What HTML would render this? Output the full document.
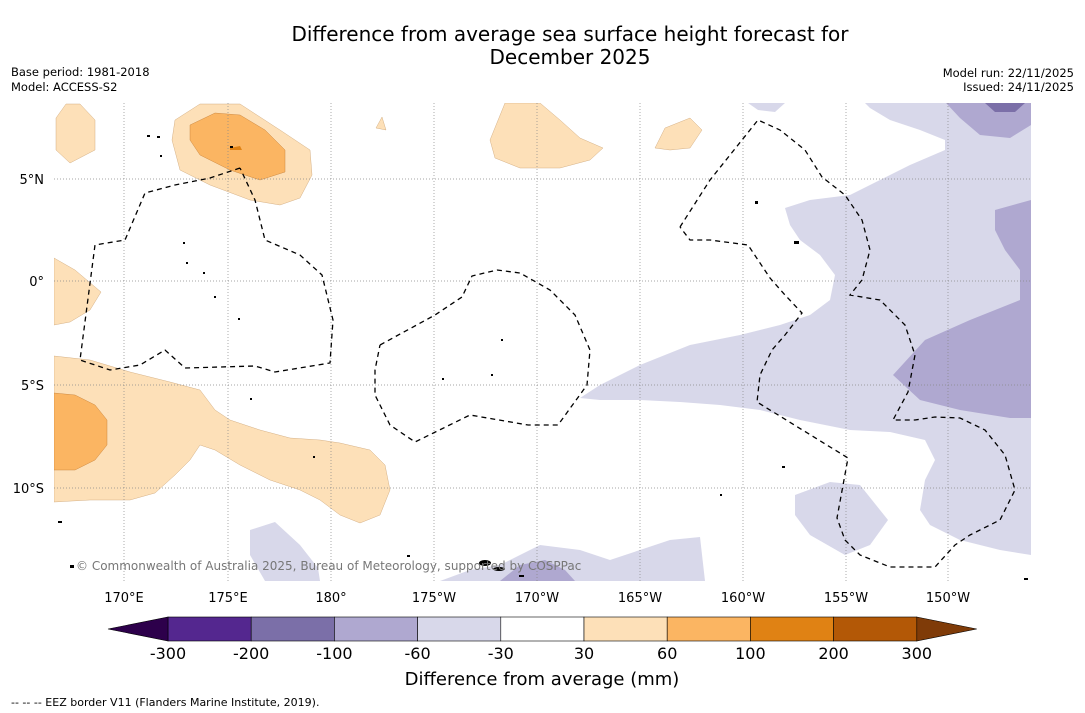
<!DOCTYPE html>
<html><head><meta charset="utf-8"><style>
body{margin:0;background:#fff;width:1085px;height:713px;overflow:hidden;font-family:"DejaVu Sans","Liberation Sans",sans-serif}
svg{position:absolute;left:0;top:0;font-family:"DejaVu Sans","Liberation Sans",sans-serif}
</style></head><body>
<svg width="1085" height="713">
<text x="570" y="41" font-size="20" text-anchor="middle">Difference from average sea surface height forecast for</text>
<text x="570" y="64" font-size="20" text-anchor="middle">December 2025</text>
<text x="11" y="76" font-size="11.5">Base period: 1981-2018</text>
<text x="11" y="91" font-size="11.5">Model: ACCESS-S2</text>
<text x="1074" y="77" font-size="11.5" text-anchor="end">Model run: 22/11/2025</text>
<text x="1074" y="91" font-size="11.5" text-anchor="end">Issued: 24/11/2025</text>
<defs><clipPath id="mc"><rect x="54" y="103" width="977" height="478"/></clipPath></defs>
<g clip-path="url(#mc)">
<rect x="54" y="103" width="977" height="478" fill="#fff"/>
<g fill="#fde0b8" stroke="#c9a070" stroke-width="0.4">
<polygon points="56,118 66,104 80,104 95,120 95,150 70,163 56,150"/>
<polygon points="175,120 200,104 240,104 280,130 310,150 312,175 300,198 280,205 250,200 210,185 180,170 172,140"/>
<polygon points="376,128 382,117 386,130"/>
<polygon points="490,140 505,103 540,103 560,120 580,138 603,148 590,160 560,168 520,168 495,158"/>
<polygon points="655,148 665,128 690,118 702,130 690,148 670,150"/>
<polygon points="54,258 75,270 101,292 90,310 70,322 54,325"/>
<polygon points="54,356 90,360 130,372 170,382 200,390 215,410 230,420 260,430 290,438 320,440 340,443 370,450 385,465 390,490 380,515 360,523 340,515 320,500 300,490 270,480 240,465 215,450 200,445 190,460 175,475 155,493 130,500 90,500 54,502"/>
</g>
<g fill="#fbb562" stroke="#c07830" stroke-width="0.4">
<polygon points="190,125 215,113 240,115 265,130 285,150 285,172 260,180 230,170 200,155 190,140"/>
<polygon points="54,393 75,395 95,405 107,420 107,445 95,460 75,470 54,470"/>
</g>
<g fill="#d8d8ea">
<polygon points="748,103 785,103 775,112 758,110"/>
<polygon points="865,103 1031,103 1031,555 1000,550 960,540 930,525 920,510 925,480 935,460 925,440 890,432 850,430 800,420 760,410 720,405 680,402 640,400 600,400 580,398 600,385 640,365 690,345 740,335 780,325 810,315 830,300 835,275 820,255 800,240 790,225 785,208 810,200 850,195 880,180 910,165 945,150 945,140 920,130 890,120 870,108"/>
<polygon points="795,495 830,482 860,485 888,520 870,545 845,555 810,535 795,515"/>
<polygon points="440,581 470,570 500,565 540,545 580,550 610,560 640,550 670,540 700,537 705,581"/>
<polygon points="250,530 275,522 300,545 318,568 320,581 265,581 250,555"/>
</g>
<g fill="#afa8d0">
<polygon points="946,103 1031,103 1031,125 1010,138 980,135 960,118"/>
<polygon points="995,210 1031,200 1031,418 1010,418 960,410 920,400 893,375 925,340 970,320 1020,300 1020,270 1005,250 995,230"/>
<polygon points="500,581 520,565 545,560 565,570 575,581"/>
</g>
<polygon fill="#7b6fa8" points="985,103 1025,103 1015,112 995,112"/>
<polygon fill="#e08214" points="230,148 240,146 242,150 230,150"/>
<g stroke="#888" stroke-width="0.7" stroke-dasharray="1,2">
<line x1="124" y1="103" x2="124" y2="581"/><line x1="228" y1="103" x2="228" y2="581"/><line x1="331" y1="103" x2="331" y2="581"/><line x1="434" y1="103" x2="434" y2="581"/><line x1="537" y1="103" x2="537" y2="581"/><line x1="640" y1="103" x2="640" y2="581"/><line x1="743" y1="103" x2="743" y2="581"/><line x1="846" y1="103" x2="846" y2="581"/><line x1="948" y1="103" x2="948" y2="581"/>
<line x1="54" y1="179" x2="1031" y2="179"/><line x1="54" y1="281" x2="1031" y2="281"/><line x1="54" y1="385" x2="1031" y2="385"/><line x1="54" y1="488" x2="1031" y2="488"/>
</g>
<g fill="none" stroke="#000" stroke-width="1.3" stroke-dasharray="5,4">
<polyline points="240,168 210,178 175,185 145,193 125,240 95,245 80,360 110,370 140,365 165,350 185,368 255,366 275,372 330,363 333,320 322,275 300,255 265,240 255,200 240,168"/>
<polyline points="380,345 435,315 462,297 472,276 497,270 520,273 550,290 575,315 590,350 587,385 558,425 528,425 470,415 415,442 390,425 375,395 375,370 380,345"/>
<polyline points="680,227 710,180 758,120 780,130 805,150 822,177 845,195 862,220 870,250 862,280 850,295 880,300 905,325 915,355 908,392 893,420 915,420 935,417 960,418 985,430 1005,455 1015,490 1000,520 970,535 955,545 935,567 890,567 860,555 845,540 837,518 848,458 757,402 760,375 772,350 785,335 802,313 785,295 770,278 748,245 710,240 690,240 680,227"/>
</g>
<g fill="#000">
<rect x="147" y="135" width="3" height="2"/><rect x="157" y="136" width="3" height="2"/><rect x="160" y="155" width="2" height="2"/><rect x="183" y="242" width="2" height="2"/><rect x="186" y="262" width="2" height="2"/><rect x="203" y="272" width="2" height="2"/><rect x="214" y="296" width="2" height="2"/><rect x="238" y="318" width="2" height="2"/><rect x="250" y="398" width="2" height="2"/><rect x="313" y="456" width="2" height="2"/><rect x="501" y="339" width="2" height="2"/><rect x="491" y="374" width="2" height="2"/><rect x="442" y="378" width="2" height="2"/><rect x="755" y="201" width="3" height="3"/><rect x="794" y="241" width="5" height="3"/><rect x="782" y="466" width="3" height="2"/><rect x="720" y="494" width="2" height="2"/><rect x="58" y="521" width="4" height="2"/><rect x="70" y="565" width="4" height="3"/><ellipse cx="485" cy="563" rx="6" ry="3"/><ellipse cx="499" cy="569" rx="6" ry="2"/><rect x="519" y="575" width="5" height="2"/><rect x="407" y="555" width="3" height="2"/><rect x="1024" y="578" width="4" height="2"/><rect x="230" y="146" width="3" height="2"/>
</g>
<text x="76" y="570" font-size="12" fill="#777">© Commonwealth of Australia 2025, Bureau of Meteorology, supported by COSPPac</text>
</g>
<g font-size="13" text-anchor="middle">
<text x="124" y="602">170°E</text><text x="228" y="602">175°E</text><text x="331" y="602">180°</text><text x="434" y="602">175°W</text><text x="537" y="602">170°W</text><text x="640" y="602">165°W</text><text x="743" y="602">160°W</text><text x="846" y="602">155°W</text><text x="948" y="602">150°W</text>
</g>
<g font-size="13" text-anchor="end">
<text x="44" y="184">5°N</text><text x="44" y="286">0°</text><text x="44" y="390">5°S</text><text x="44" y="493">10°S</text>
</g>
<g id="cbar"></g>
<text x="542" y="685" font-size="18" text-anchor="middle">Difference from average (mm)</text>
<text x="11" y="706" font-size="11">--  --  -- EEZ border V11 (Flanders Marine Institute, 2019).</text>
</svg>
<script>
const levels=[-300,-200,-100,-60,-30,30,60,100,200,300];
const colors=["#54278f","#7b6fa8","#afa8d0","#d8d8ea","#ffffff","#fde0b8","#fbb562","#e08214","#b35806"];
const g=document.getElementById('cbar');
const NS='http://www.w3.org/2000/svg';
const x0=168,w=83.2,y0=617,h=24;
function mk(t,a){const e=document.createElementNS(NS,t);for(const k in a)e.setAttribute(k,a[k]);g.appendChild(e);return e;}
colors.forEach((c,i)=>{const r=mk('rect',{x:x0+i*w,y:y0,width:w,height:h,fill:c,stroke:'#000','stroke-width':0.6});

});
const lo=mk('polygon',{points:`108,629 ${x0},${y0} ${x0},${y0+h}`,fill:'#2d004b',stroke:'#000','stroke-width':0.6});


const xe=x0+colors.length*w;
const hi=mk('polygon',{points:`${xe},${y0} ${xe+60},629 ${xe},${y0+h}`,fill:'#7f3b08',stroke:'#000','stroke-width':0.6});


levels.forEach((v,i)=>{const t=mk('text',{x:x0+i*w,y:659,'font-size':16,'text-anchor':'middle'});t.textContent=v;

});
</script>
</body></html>
